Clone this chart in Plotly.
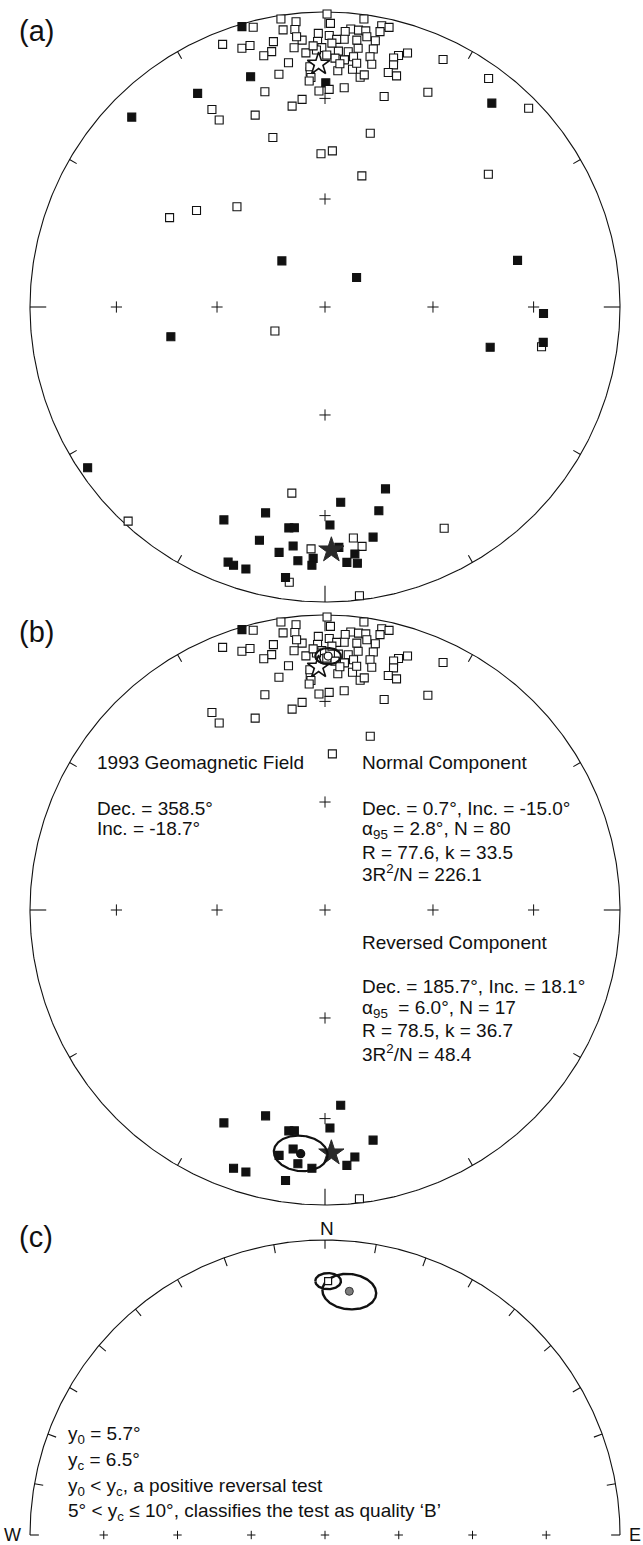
import numpy as np
import plotly.graph_objects as go

# ---------------------------------------------------------------------------
# Site directions (declination, inclination in degrees; inc > 0 = lower hemisphere)
# ---------------------------------------------------------------------------
# Normal-polarity sites retained in the mean (N = 80)
normal_dec = [0.4, 351.3, 354.2, 7.7, 345.6, 343.5, 351.4, 353.8, 1.1, 5.3,
              6.9, 8.4, 11.4, 12.9, 11.3, 358.6, 0.9, 4.2, 4.1, 355.1,
              349.0, 338.7, 342.2, 344.0, 353.2, 358.4, 359.3, 10.7, 348.2, 346.3,
              355.7, 3.0, 5.2, 7.3, 10.6, 16.3, 18.0, 15.4, 2.3, 4.5,
              6.5, 10.2, 358.1, 351.5, 10.9, 15.8, 3.1, 6.6, 15.1, 17.2,
              8.7, 9.6, 348.8, 356.4, 356.5, 356.0, 358.4, 1.1, 5.0, 344.4,
              15.7, 25.6, 25.5, 353.7, 350.7, 330.2, 330.5, 340.0, 14.6, 2.7,
              2.5, 357.4, 1.5, 6.8, 8.8, 3.5, 356.4, 7.4, 354.0, 0.4]
normal_inc = [-0.8, -1.4, -3.2, -1.7, -2.4, 1.0, -5.6, -6.0, -4.3, -6.0,
              -6.1, -6.0, -3.1, -3.1, -5.4, -8.0, -8.8, -7.1, -9.9, -10.1,
              -9.2, -5.0, -8.7, -8.6, -12.5, -10.9, -13.1, -9.0, -12.6, -13.4,
              -14.7, -14.2, -14.2, -12.6, -12.0, -12.2, -10.4, -13.5, -16.7, -17.1,
              -15.7, -14.9, -13.9, -17.4, -17.3, -15.8, -20.9, -20.0, -18.8, -19.1,
              -22.3, -21.3, -20.7, -21.2, -23.1, -24.2, -27.6, -27.1, -26.3, -25.2,
              -26.8, -20.4, -7.8, -29.9, -31.6, -23.9, -28.0, -31.4, -39.0, -46.0,
              -10.1, -12.4, -11.5, -9.8, -8.1, -18.5, -19.5, -17.8, -8.7, -15.7]

# Reversed-polarity sites retained in the mean (N = 17)
reversed_dec = [205.4, 196.1, 175.4, 189.3, 187.9, 178.7, 187.6, 190.6, 186.1,
                182.9, 173.1, 175.1, 168.2, 199.5, 196.8, 188.3, 173.2]
reversed_inc = [21.2, 28.2, 34.0, 25.1, 25.4, 27.0, 19.4, 16.5, 14.6,
                13.4, 16.8, 14.2, 21.4, 7.9, 8.0, 8.1, -1.6]

# Sites excluded from the component means
rejected_dec = [161.6, 165.2, 195.7, 176.7, 182.7, 172.8, 200.8, 190.1, 173.0, 171.2,
                183.3, 187.4, 151.7, 222.6, 235.9, 299.9, 306.9, 318.7, 316.9, 46.9,
                76.4, 259.1, 244.4, 103.7, 91.7, 99.2, 100.4, 314.5, 329.2, 342.1,
                0.2, 39.3, 35.6, 45.7, 342.9, 358.5, 15.7, 50.9]
rejected_inc = [35.3, 29.3, 19.0, 19.5, 15.8, 13.5, 8.3, -36.1, -22.2, -19.0,
                -19.0, -6.6, -15.9, -1.6, 3.2, -39.1, -44.7, -52.7, 72.6, 78.1,
                33.3, 45.8, -74.7, 41.9, 26.8, 26.0, -26.3, 9.0, 16.8, 19.1,
                25.0, 11.7, -5.3, -4.0, -39.7, -46.9, -51.9, -29.4]

# 1993 geomagnetic field at the site
field_dec, field_inc = 358.5, -18.7

# Fisher statistics of the two components
normal_mean = dict(dec=0.7, inc=-15.0, a95=2.8)
reversed_mean = dict(dec=185.7, inc=18.1, a95=6.0)

# ---------------------------------------------------------------------------
# Page geometry (pixels)
# ---------------------------------------------------------------------------
W, H = 643, 1545
R = 295.0
# centre x, centre y, top, bottom of each panel
PANELS = [(325, 307, 0, 606), (325, 910, 606, 1213), (325, 1535, 1213, 1545)]
FONT = "Liberation Sans, Arial, sans-serif"
INK = "#111111"
TEXT_SIZE = 19


def eqarea(dec, inc):
    """Lambert equal-area (Schmidt) projection onto the unit circle."""
    d = np.radians(np.asarray(dec, dtype=float))
    i = np.abs(np.asarray(inc, dtype=float))
    r = np.sqrt(2.0) * np.sin(np.radians(90.0 - i) / 2.0)
    return r * np.sin(d), r * np.cos(d)


def cone(dec, inc, a95, n=241):
    """Small circle of radius a95 about a direction, projected."""
    D, I, a = np.radians(dec), np.radians(inc), np.radians(a95)
    m = np.array([np.cos(I) * np.cos(D), np.cos(I) * np.sin(D), np.sin(I)])
    k = np.array([0.0, 0.0, 1.0])
    b1 = np.cross(m, k)
    b1 /= np.linalg.norm(b1)
    b2 = np.cross(m, b1)
    t = np.linspace(0, 2 * np.pi, n)
    v = (np.cos(a) * m[:, None]
         + np.sin(a) * (np.cos(t) * b1[:, None] + np.sin(t) * b2[:, None]))
    dd = np.degrees(np.arctan2(v[1], v[0]))
    ii = np.degrees(np.arcsin(np.clip(v[2], -1, 1)))
    return eqarea(dd, ii)


fig = go.Figure()


def ax(n):
    s = "" if n == 1 else str(n)
    return dict(xaxis="x" + s, yaxis="y" + s)


def add(n, **kw):
    kw.update(ax(n))
    kw.setdefault("showlegend", False)
    kw.setdefault("hoverinfo", "skip")
    fig.add_trace(go.Scatter(**kw))


def primitive(n, a0=0, a1=360):
    t = np.radians(np.linspace(a0, a1, 721))
    add(n, x=np.sin(t), y=np.cos(t), mode="lines",
        line=dict(color=INK, width=1.1))


def ticks(n, azimuths, r0):
    xs, ys = [], []
    for az in azimuths:
        a = np.radians(az)
        xs += [r0 * np.sin(a), np.sin(a), None]
        ys += [r0 * np.cos(a), np.cos(a), None]
    add(n, x=xs, y=ys, mode="lines", line=dict(color=INK, width=1.1))


def graticule_crosses(n):
    decs = [0, 90, 180, 270]
    gd = [0.0] + [d for d in decs for _ in (30, 60)]
    gi = [90.0] + [i for _ in decs for i in (30, 60)]
    x, y = eqarea(gd, gi)
    add(n, x=x, y=y, mode="markers",
        marker=dict(symbol="cross-thin", size=8, line=dict(color=INK, width=1)))


def sites(n, dec, inc):
    dec = np.asarray(dec)
    inc = np.asarray(inc)
    up = inc < 0
    x, y = eqarea(dec[up], inc[up])
    add(n, x=x, y=y, mode="markers",
        marker=dict(symbol="square", size=8, color="white",
                    line=dict(color=INK, width=1.1)))
    x, y = eqarea(dec[~up], inc[~up])
    add(n, x=x, y=y, mode="markers",
        marker=dict(symbol="square", size=8, color=INK,
                    line=dict(color=INK, width=1.1)))


def field_stars(n):
    x, y = eqarea([field_dec], [field_inc])
    add(n, x=x, y=y, mode="markers",
        marker=dict(symbol="star", size=17, color="white",
                    line=dict(color=INK, width=1.6)))
    x, y = eqarea([(field_dec + 180) % 360], [-field_inc])
    add(n, x=x, y=y, mode="markers",
        marker=dict(symbol="star", size=19, color="#2a2a2a",
                    line=dict(color="#2a2a2a", width=1)))


# ---------------------------------------------------------------------------
# (a) all site directions
# ---------------------------------------------------------------------------
primitive(1)
ticks(1, [30, 60, 120, 150, 210, 240, 300, 330], 0.972)
ticks(1, [0, 90, 180, 270], 0.945)
graticule_crosses(1)
sites(1, rejected_dec, rejected_inc)
sites(1, normal_dec, normal_inc)
sites(1, reversed_dec, reversed_inc)
field_stars(1)

# ---------------------------------------------------------------------------
# (b) retained sites with component means and alpha95 cones
# ---------------------------------------------------------------------------
primitive(2)
ticks(2, [30, 60, 120, 150, 210, 240, 300, 330], 0.972)
ticks(2, [0, 90, 180, 270], 0.945)
graticule_crosses(2)
sites(2, normal_dec, normal_inc)
sites(2, reversed_dec, reversed_inc)
field_stars(2)
for m, face in ((normal_mean, "white"), (reversed_mean, INK)):
    cx, cy = cone(m["dec"], m["inc"], m["a95"])
    add(2, x=cx, y=cy, mode="lines", line=dict(color=INK, width=2.2))
    x, y = eqarea([m["dec"]], [m["inc"]])
    add(2, x=x, y=y, mode="markers",
        marker=dict(symbol="circle", size=8, color=face,
                    line=dict(color=INK, width=1.3)))

# ---------------------------------------------------------------------------
# (c) reversal test: normal mean vs. antipode of reversed mean
# ---------------------------------------------------------------------------
primitive(3, -90, 90)
ticks(3, list(range(-90, 91, 10)), 0.97)
add(3, x=np.arange(-0.75, 0.76, 0.25), y=np.zeros(7), mode="markers",
    marker=dict(symbol="cross-thin", size=6, line=dict(color=INK, width=1)))
anti_dec = (reversed_mean["dec"] + 180) % 360
anti_inc = -reversed_mean["inc"]
for d, i, a in ((normal_mean["dec"], normal_mean["inc"], normal_mean["a95"]),
                (anti_dec, anti_inc, reversed_mean["a95"])):
    cx, cy = cone(d, i, a)
    add(3, x=cx, y=cy, mode="lines", line=dict(color=INK, width=2.4))
x, y = eqarea([normal_mean["dec"]], [normal_mean["inc"]])
add(3, x=x, y=y, mode="markers",
    marker=dict(symbol="square", size=7, color="white", line=dict(color=INK, width=1.2)))
x, y = eqarea([anti_dec], [anti_inc])
add(3, x=x, y=y, mode="markers",
    marker=dict(symbol="circle", size=8, color="#7d7d7d", line=dict(color="#333333", width=1)))

# ---------------------------------------------------------------------------
# Axes: one equal-scale frame per panel
# ---------------------------------------------------------------------------
layout_axes = {}
for k, (cx, cy, top, bot) in enumerate(PANELS, start=1):
    s = "" if k == 1 else str(k)
    layout_axes["xaxis" + s] = dict(domain=[0, 1], range=[-cx / R, (W - cx) / R],
                                    visible=False, anchor="y" + s, fixedrange=True)
    layout_axes["yaxis" + s] = dict(domain=[1 - bot / H, 1 - top / H],
                                    range=[(cy - bot) / R, (cy - top) / R],
                                    visible=False, anchor="x" + s, fixedrange=True)

annotations = []


def label(text, px, py, size=TEXT_SIZE, xanchor="left"):
    annotations.append(dict(text=text, x=px / W, y=1 - py / H, xref="paper", yref="paper",
                            xanchor=xanchor, yanchor="middle", showarrow=False,
                            borderpad=0,
                            font=dict(family=FONT, size=size, color=INK)))


label("(a)", 18, 31, size=29)
label("(b)", 18, 632, size=29)
label("(c)", 18, 1237, size=29)

label("1993 Geomagnetic Field", 96, 762)
label("Dec. = 358.5°", 96, 808)
label("Inc. = -18.7°", 96, 829)

label("Normal Component", 361, 762)
label("Dec. = 0.7°, Inc. = -15.0°", 361, 808)
label("α<sub>95</sub> = 2.8°, N = 80", 361, 830)
label("R = 77.6, k = 33.5", 361, 852)
label("3R<sup>2</sup>/N = 226.1", 361, 873)

label("Reversed Component", 361, 942)
label("Dec. = 185.7°, Inc. = 18.1°", 361, 987)
label("α<sub>95</sub>  = 6.0°, N = 17", 361, 1009)
label("R = 78.5, k = 36.7", 361, 1030)
label("3R<sup>2</sup>/N = 48.4", 361, 1053)

label("N", 327, 1228, xanchor="center")
label("W", 3, 1535, size=18)
label("E", 628, 1535, size=18)

label("y<sub>0</sub> = 5.7°", 67, 1435)
label("y<sub>c</sub> = 6.5°", 67, 1461)
label("y<sub>0</sub> &lt; y<sub>c</sub>, a positive reversal test", 67, 1487)
label("5° &lt; y<sub>c</sub> ≤ 10°, classifies the test as quality ‘B’", 67, 1512)

fig.update_layout(width=W, height=H, margin=dict(l=0, r=0, t=0, b=0),
                  paper_bgcolor="white", plot_bgcolor="white",
                  font=dict(family=FONT, size=TEXT_SIZE, color=INK),
                  annotations=annotations, **layout_axes)

fig.write_html("out.html")
